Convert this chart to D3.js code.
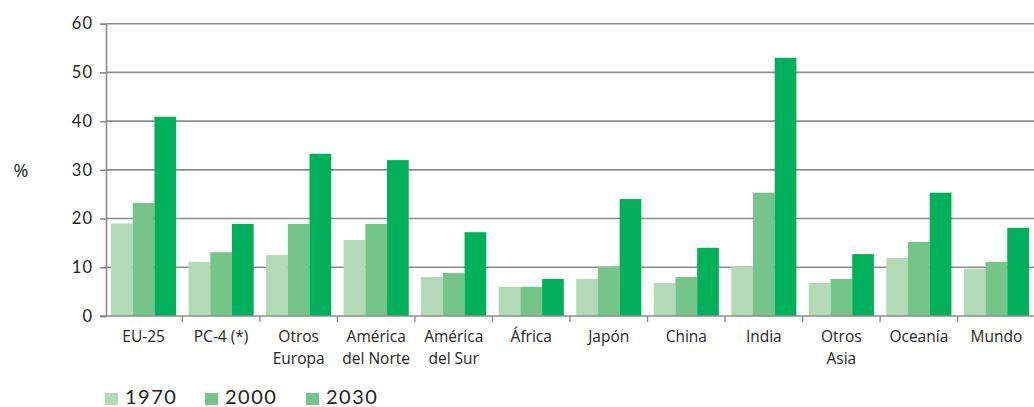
<!DOCTYPE html>
<html><head><meta charset="utf-8">
<script src="https://cdn.jsdelivr.net/npm/d3@7"></script>
<style>
body{margin:0;background:#fff;}
svg{display:block;font-family:"Open Sans","Noto Sans",sans-serif;}
</style></head>
<body><svg id="c" width="1034" height="407"></svg>
<script>
const categories = [["EU-25"],["PC-4 (*)"],["Otros","Europa"],["América","del Norte"],["América","del Sur"],["África"],["Japón"],["China"],["India"],["Otros","Asia"],["Oceanía"],["Mundo"]];
const seriesNames = ["1970","2000","2030"];
const v1970 = [19.0,11.1,12.5,15.6,8.0,6.0,7.6,6.8,10.1,6.8,11.9,9.7];
const v2000 = [23.2,13.1,18.9,18.9,8.8,6.0,10.1,8.0,25.3,7.6,15.2,11.1];
const v2030 = [40.9,18.9,33.3,32.0,17.2,7.6,24.0,14.0,53.0,12.7,25.3,18.1];
const yTicks = [0,10,20,30,40,50,60];
const colors = ["#b2dab6","#75c58a","#00b05a"];
const legendColors = ["#b2dab6","#75c58a","#75c58a"];

const svg = d3.select("#c");
const mLeft = 106, mRight = 1034, mTop = 23.7, mBottom = 316;
const keys = categories.map(c => c.join(" "));
const series = [v1970, v2000, v2030];

const x0 = d3.scaleBand().domain(keys).range([mLeft, mRight]).paddingInner(0.16).paddingOuter(0.065);
const x1 = d3.scaleBand().domain(seriesNames).range([0, x0.bandwidth()]);
const y = d3.scaleLinear().domain([0,60]).range([mBottom, mTop]);

// gridlines
svg.append("g").selectAll("line").data(yTicks.filter(t=>t>0)).join("line")
  .attr("x1", mLeft).attr("x2", mRight).attr("y1", d=>y(d)).attr("y2", d=>y(d))
  .attr("stroke", "#8c8c90").attr("stroke-width", 1.6);

// bars
const g = svg.append("g");
keys.forEach((k, i) => {
  seriesNames.forEach((s, j) => {
    g.append("rect")
      .attr("x", x0(k) + x1(s)).attr("width", x1.bandwidth())
      .attr("y", y(series[j][i])).attr("height", mBottom - y(series[j][i]))
      .attr("fill", colors[j]);
  });
});

// y axis
const yAxis = svg.append("g").attr("transform", `translate(${mLeft},0)`)
  .call(d3.axisLeft(y).tickValues(yTicks).tickSize(6).tickPadding(7));
yAxis.select(".domain").attr("stroke", "#8c8c90").attr("stroke-width", 1.6);
yAxis.selectAll(".tick line").attr("stroke", "#8c8c90").attr("stroke-width", 1.6);
yAxis.selectAll(".tick text").attr("font-size", 16.5).attr("fill", "#222").attr("font-family", "Lato, 'Open Sans', sans-serif").attr("letter-spacing", 1);

// x axis baseline + boundary ticks
svg.append("line").attr("x1", mLeft - 6).attr("x2", mRight).attr("y1", mBottom).attr("y2", mBottom)
  .attr("stroke", "#8c8c90").attr("stroke-width", 1.6);
const step = x0.step();
const bounds = keys.slice(1).map(k => x0(k) - (step - x0.bandwidth())/2);
svg.append("g").selectAll("line").data(bounds).join("line")
  .attr("x1", d=>d).attr("x2", d=>d).attr("y1", mBottom).attr("y2", mBottom + 6)
  .attr("stroke", "#8c8c90").attr("stroke-width", 1.4);

// category labels
const lab = svg.append("g");
categories.forEach((c, i) => {
  const cx = x0(keys[i]) + x0.bandwidth()/2;
  const t = lab.append("text").attr("text-anchor", "middle").attr("font-size", 15.5)
    .attr("fill", "#262626");
  c.forEach((line, li) => {
    t.append("tspan").attr("x", cx).attr("y", 342 + li*21.5).text(line);
  });
});

// % label
svg.append("text").attr("x", 21).attr("y", 177).attr("text-anchor", "middle")
  .attr("font-size", 18).attr("fill", "#222").text("%");

// legend
const legX = [105, 205, 306];
seriesNames.forEach((s, j) => {
  svg.append("rect").attr("x", legX[j]).attr("y", 393).attr("width", 13).attr("height", 12).attr("fill", legendColors[j]);
  svg.append("text").attr("x", legX[j] + 20).attr("y", 404).attr("font-size", 20)
    .attr("font-family", "Lato, 'Open Sans', sans-serif").attr("letter-spacing", 1.5)
    .attr("fill", "#222").text(s);
});
</script></body></html>
